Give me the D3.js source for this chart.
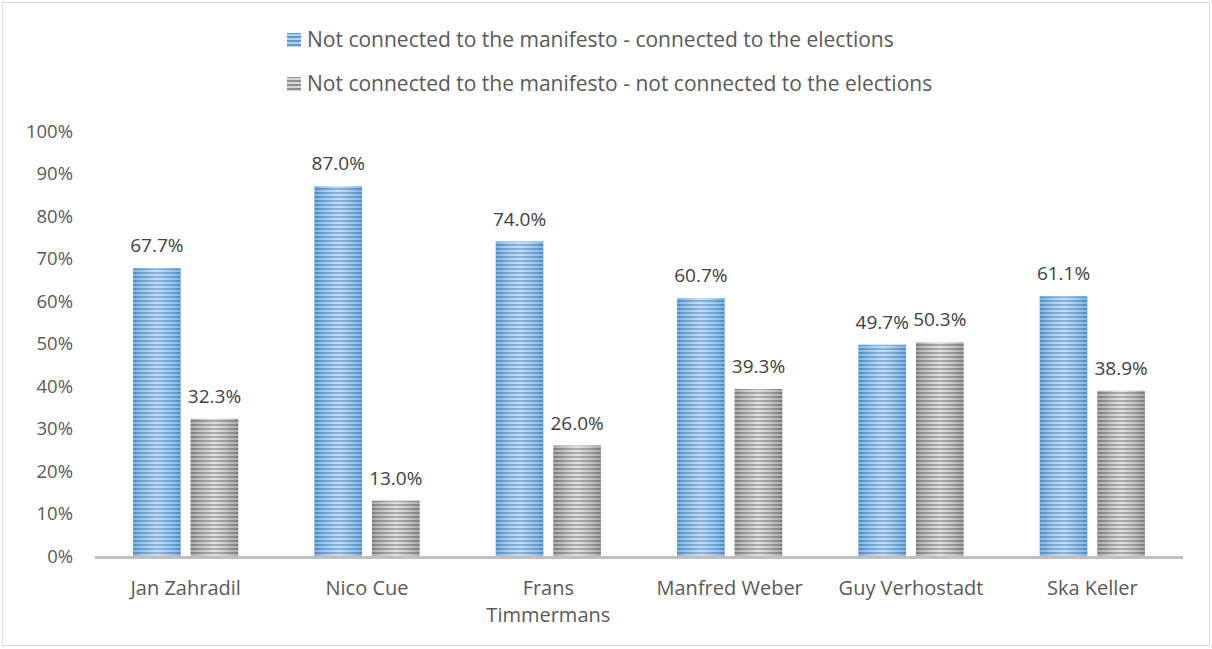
<!DOCTYPE html>
<html>
<head>
<meta charset="utf-8">
<script src="https://cdn.jsdelivr.net/npm/d3@7/dist/d3.min.js"></script>
<style>
  html, body { margin: 0; padding: 0; background: #fff; }
  svg { display: block; }
  text { font-family: "Open Sans", Lato, sans-serif; fill: #595959; }
</style>
</head>
<body>
<script>
// Candidates and the share of mentions in each group
const candidates = [["Jan Zahradil"], ["Nico Cue"], ["Frans", "Timmermans"], ["Manfred Weber"], ["Guy Verhostadt"], ["Ska Keller"]];
const connectedElections = [67.7, 87.0, 74.0, 60.7, 49.7, 61.1];
const notConnectedElections = [32.3, 13.0, 26.0, 39.3, 50.3, 38.9];
const seriesNames = [
  "Not connected to the manifesto - connected to the elections",
  "Not connected to the manifesto - not connected to the elections"
];
const yTicks = [0, 10, 20, 30, 40, 50, 60, 70, 80, 90, 100];

const W = 1212, H = 649;
const margin = { left: 95, right: 29, top: 131, bottom: 93 };

const svg = d3.select("body").append("svg").attr("width", W).attr("height", H);

// chart frame
svg.append("rect").attr("x", 2.5).attr("y", 2.5).attr("width", W - 5).attr("height", H - 6)
  .attr("fill", "#fff").attr("stroke", "#d9d9d9").attr("stroke-width", 1);

const defs = svg.append("defs");
function stripes(id, dark, light) {
  const p = defs.append("pattern").attr("id", id).attr("patternUnits", "userSpaceOnUse")
    .attr("width", 8).attr("height", 4);
  p.append("rect").attr("width", 8).attr("height", 4).attr("fill", light);
  p.append("rect").attr("width", 8).attr("height", 2).attr("fill", dark);
}
stripes("blueStripes", "#5b9bd5", "#b4d3ef");
stripes("grayStripes", "#8f8f8f", "#d6d6d6");

function sheen(id, edge, mid) {
  const g = defs.append("linearGradient").attr("id", id).attr("x1", 0).attr("x2", 1).attr("y1", 0).attr("y2", 0);
  g.append("stop").attr("offset", "0%").attr("stop-color", edge).attr("stop-opacity", 0.35);
  g.append("stop").attr("offset", "50%").attr("stop-color", mid).attr("stop-opacity", 0.25);
  g.append("stop").attr("offset", "100%").attr("stop-color", edge).attr("stop-opacity", 0.35);
}
sheen("blueSheen", "#2e75b6", "#ffffff");
sheen("graySheen", "#595959", "#ffffff");

const x0 = d3.scaleBand().domain(d3.range(candidates.length))
  .range([margin.left, W - margin.right]).paddingInner(0.42).paddingOuter(0.21);
const x1 = d3.scaleBand().domain([0, 1]).range([0, x0.bandwidth()]).paddingInner(0.174);
const y = d3.scaleLinear().domain([0, 100]).range([H - margin.bottom, margin.top]);

// y axis labels
const yAxis = svg.append("g").attr("transform", `translate(${margin.left - 22},0)`)
  .call(d3.axisLeft(y).tickValues(yTicks).tickFormat(d => d + "%").tickSize(0).tickPadding(0));
yAxis.select(".domain").remove();
yAxis.selectAll("text").style("font-size", "18.5px").attr("fill", "#595959").attr("dy", "0.35em")
  .style("font-family", "'Open Sans', Lato, sans-serif");

const series = [
  { values: connectedElections, fill: "url(#blueStripes)", sheen: "url(#blueSheen)" },
  { values: notConnectedElections, fill: "url(#grayStripes)", sheen: "url(#graySheen)" }
];

series.forEach((s, si) => {
  const g = svg.append("g");
  s.values.forEach((v, i) => {
    const bx = x0(i) + x1(si), bw = x1.bandwidth();
    g.append("rect").attr("x", bx).attr("y", y(v)).attr("width", bw).attr("height", y(0) - y(v)).attr("fill", s.fill);
    g.append("rect").attr("x", bx).attr("y", y(v)).attr("width", bw).attr("height", y(0) - y(v)).attr("fill", s.sheen);
    g.append("text").attr("x", bx + bw / 2).attr("y", y(v) - 16).attr("text-anchor", "middle")
      .style("font-size", "19px").style("fill", "#404040").text(v.toFixed(1) + "%");
  });
});

// baseline
svg.append("line").attr("x1", margin.left).attr("x2", W - margin.right)
  .attr("y1", y(0) + 1.5).attr("y2", y(0) + 1.5).attr("stroke", "#bfbfbf").attr("stroke-width", 3);

// category labels
candidates.forEach((lines, i) => {
  const cx = x0(i) + x0.bandwidth() / 2;
  const t = svg.append("text").attr("x", cx).attr("y", 595)
    .attr("text-anchor", "middle").style("font-size", "20px");
  lines.forEach((l, k) => t.append("tspan").attr("x", cx).attr("dy", k ? 27 : 0).text(l));
});

// legend
const legend = svg.append("g");
seriesNames.forEach((name, i) => {
  const ly = 40 + i * 44;
  legend.append("rect").attr("x", 287).attr("y", ly - 7).attr("width", 14).attr("height", 14)
    .attr("fill", series[i].fill);
  legend.append("text").attr("x", 307).attr("y", ly).attr("dy", "0.35em")
    .style("font-size", "21px").text(name);
});
</script>
</body>
</html>
